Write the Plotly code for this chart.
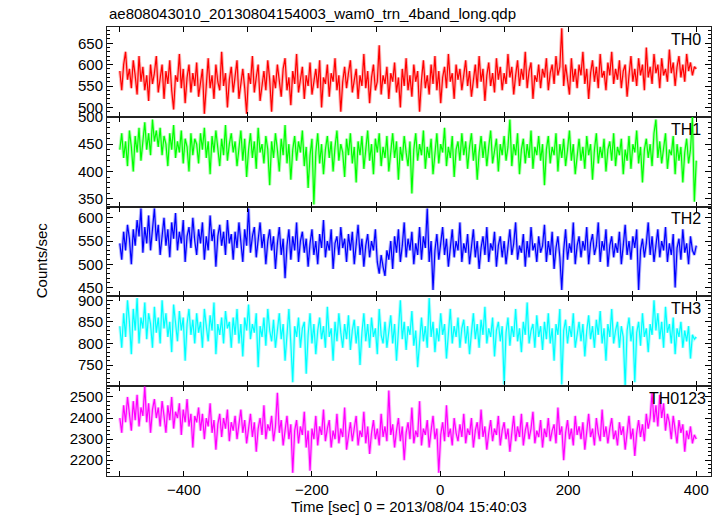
import numpy as np
import plotly.graph_objects as go

# time grid (sec), 3 s sampling of the light curve
time_sec = np.arange(-500, 401, 3)

th0 = [585, 540, 600, 630, 565, 590, 545, 610, 575, 530, 620, 560, 595, 540, 575, 515, 600, 555, 580, 620,
       535, 570, 600, 520, 585, 555, 610, 540, 495, 575, 560, 625, 545, 590, 510, 570, 600, 535, 580, 550,
       605, 525, 565, 590, 485, 555, 615, 545, 575, 520, 600, 560, 540, 630, 550, 580, 500, 565, 595, 535,
       575, 610, 520, 560, 590, 545, 485, 580, 555, 620, 535, 570, 600, 515, 555, 585, 540, 610, 565, 490,
       575, 545, 600, 560, 525, 590, 615, 540, 570, 505, 585, 555, 625, 535, 560, 595, 520, 575, 550, 605,
       530, 565, 590, 545, 610, 500, 570, 555, 600, 525, 580, 560, 615, 540, 575, 490, 560, 595, 545, 580,
       610, 535, 565, 590, 520, 575, 550, 625, 545, 585, 510, 570, 600, 540, 560, 645, 530, 575, 555, 595,
       520, 580, 560, 605, 535, 570, 500, 590, 550, 615, 540, 575, 525, 600, 560, 585, 490, 565, 610, 545,
       575, 530, 600, 555, 620, 540, 585, 510, 570, 595, 545, 625, 560, 580, 520, 600, 565, 590, 540, 575,
       610, 550, 585, 525, 570, 600, 545, 620, 560, 590, 515, 575, 605, 550, 580, 535, 615, 565, 595, 540,
       580, 555, 625, 570, 595, 530, 575, 610, 550, 590, 565, 630, 545, 585, 605, 520, 575, 560, 600, 545,
       590, 570, 615, 540, 580, 600, 555, 620, 575, 595, 685, 550, 600, 570, 530, 615, 560, 590, 545, 600,
       575, 630, 555, 590, 520, 580, 610, 560, 595, 545, 625, 570, 585, 540, 605, 575, 630, 555, 590, 565,
       610, 545, 585, 600, 525, 575, 620, 560, 590, 550, 615, 575, 600, 540, 640, 570, 595, 555, 625, 580,
       600, 545, 615, 575, 590, 560, 635, 580, 605, 550, 595, 620, 570, 600, 560, 625, 585, 605, 575, 595,
       590]

th1 = [440, 470, 425, 455, 410, 475, 445, 400, 465, 435, 480, 420, 455, 490, 440, 470, 430, 495, 455, 475,
       445, 480, 430, 465, 450, 410, 470, 440, 485, 425, 455, 435, 475, 415, 460, 445, 400, 470, 430, 460,
       450, 415, 470, 440, 480, 425, 455, 395, 465, 435, 475, 445, 410, 460, 430, 485, 420, 450, 470, 435,
       455, 410, 445, 475, 420, 460, 390, 440, 470, 425, 455, 405, 480, 435, 450, 415, 465, 440, 375, 455,
       425, 470, 440, 400, 460, 430, 485, 415, 450, 385, 440, 465, 420, 455, 435, 475, 410, 445, 370, 430,
       460, 340, 435, 470, 415, 450, 395, 440, 465, 425, 455, 400, 445, 475, 420, 450, 435, 390, 460, 430,
       470, 415, 445, 380, 455, 430, 465, 405, 440, 475, 420, 450, 395, 460, 435, 470, 410, 445, 425, 465,
       400, 440, 470, 425, 455, 385, 445, 420, 465, 435, 410, 455, 360, 440, 470, 420, 450, 430, 475, 405,
       445, 425, 460, 395, 440, 470, 415, 450, 435, 480, 410, 445, 425, 465, 390, 440, 455, 420, 470, 430,
       455, 405, 445, 470, 420, 450, 385, 435, 465, 425, 455, 410, 445, 475, 415, 440, 460, 400, 450, 430,
       465, 420, 445, 495, 410, 450, 430, 470, 395, 440, 460, 415, 450, 425, 475, 405, 445, 430, 465, 420,
       450, 375, 440, 465, 415, 445, 430, 470, 400, 450, 425, 460, 410, 440, 475, 420, 450, 395, 435, 460,
       420, 445, 405, 465, 430, 450, 385, 440, 470, 415, 445, 425, 460, 400, 440, 455, 420, 470, 410, 445,
       430, 460, 395, 440, 420, 465, 405, 450, 435, 475, 415, 445, 380, 440, 460, 425, 450, 410, 470, 495,
       425, 455, 415, 445, 470, 405, 440, 430, 465, 395, 450, 420, 445, 380, 435, 460, 415, 440, 500, 345,
       420]

th2 = [545, 510, 570, 530, 585, 555, 500, 575, 540, 595, 560, 620, 525, 580, 545, 605, 530, 570, 620, 550,
       585, 520, 565, 600, 540, 575, 515, 590, 555, 610, 530, 570, 545, 595, 505, 560, 580, 535, 600, 550,
       520, 575, 545, 590, 510, 560, 530, 605, 550, 575, 495, 560, 585, 540, 570, 520, 595, 545, 565, 510,
       570, 535, 590, 550, 505, 575, 540, 620, 525, 560, 580, 515, 555, 590, 535, 565, 500, 550, 575, 530,
       560, 490, 545, 580, 520, 555, 470, 540, 575, 510, 560, 530, 590, 505, 550, 570, 525, 555, 495, 545,
       575, 520, 550, 500, 565, 535, 595, 515, 550, 530, 575, 490, 545, 560, 520, 580, 535, 555, 505, 565,
       530, 570, 500, 545, 585, 520, 555, 495, 540, 565, 515, 550, 530, 575, 505, 480, 520, 495, 475, 530,
       510, 550, 490, 560, 525, 575, 505, 540, 590, 515, 555, 530, 570, 500, 545, 520, 580, 510, 560, 535,
       620, 505, 550, 445, 530, 565, 510, 545, 580, 520, 555, 495, 540, 575, 515, 550, 530, 590, 505, 545,
       525, 565, 500, 540, 575, 515, 550, 490, 535, 560, 520, 580, 505, 545, 530, 570, 495, 540, 560, 515,
       550, 500, 535, 575, 520, 545, 590, 510, 540, 525, 565, 495, 550, 515, 580, 530, 545, 505, 560, 525,
       540, 585, 505, 550, 520, 570, 490, 535, 560, 515, 445, 530, 575, 510, 545, 525, 590, 500, 540, 560,
       515, 550, 530, 580, 500, 545, 565, 520, 540, 590, 505, 550, 530, 575, 495, 540, 560, 515, 545, 525,
       570, 500, 540, 585, 520, 550, 510, 560, 535, 575, 445, 530, 555, 515, 545, 590, 520, 560, 505, 540,
       575, 515, 550, 530, 580, 505, 545, 520, 565, 450, 535, 555, 510, 575, 525, 545, 500, 560, 530, 520,
       540]

th3 = [840, 790, 870, 815, 900, 850, 775, 880, 830, 905, 800, 860, 835, 895, 810, 870, 845, 790, 885, 825,
       860, 800, 900, 835, 870, 815, 850, 780, 890, 840, 805, 875, 830, 860, 760, 845, 880, 820, 855, 800,
       870, 825, 850, 790, 880, 840, 805, 865, 830, 895, 775, 845, 820, 860, 800, 875, 835, 850, 790, 860,
       820, 880, 800, 845, 770, 860, 830, 890, 810, 845, 825, 870, 745, 840, 815, 860, 795, 880, 830, 805,
       855, 790, 835, 870, 810, 845, 760, 825, 880, 800, 710, 840, 815, 860, 790, 835, 850, 730, 820, 870,
       800, 845, 775, 830, 860, 810, 840, 790, 885, 815, 835, 760, 850, 805, 870, 825, 790, 845, 810, 865,
       785, 830, 855, 800, 840, 750, 825, 870, 805, 845, 790, 860, 815, 835, 775, 880, 820, 800, 850, 790,
       835, 865, 800, 845, 760, 830, 900, 810, 850, 785, 840, 820, 875, 795, 830, 745, 815, 860, 805, 840,
       790, 905, 815, 850, 780, 835, 805, 870, 820, 845, 765, 830, 880, 800, 840, 815, 860, 790, 835, 855,
       800, 840, 775, 825, 870, 810, 845, 790, 855, 820, 885, 800, 835, 815, 860, 770, 830, 850, 805, 840,
       705, 825, 860, 795, 840, 815, 880, 805, 835, 780, 850, 820, 895, 800, 830, 845, 790, 865, 815, 840,
       785, 850, 810, 870, 800, 835, 760, 845, 820, 880, 705, 830, 855, 800, 840, 815, 870, 790, 825, 850,
       805, 845, 770, 830, 865, 810, 840, 790, 855, 820, 875, 800, 835, 760, 845, 815, 880, 800, 830, 850,
       790, 840, 815, 700, 830, 860, 805, 840, 710, 825, 850, 795, 870, 815, 835, 780, 845, 820, 900, 830,
       870, 810, 850, 790, 885, 825, 845, 800, 860, 775, 835, 815, 850, 790, 830, 805, 840, 765, 820, 810,
       815]

th0123 = [2400, 2330, 2460, 2380, 2500, 2420, 2340, 2480, 2390, 2510, 2360, 2450, 2410, 2550, 2380, 2470, 2330, 2440, 2490, 2400,
          2450, 2360, 2480, 2410, 2330, 2460, 2390, 2500, 2350, 2430, 2400, 2470, 2320, 2440, 2380, 2490, 2360, 2420, 2260, 2410,
          2380, 2450, 2340, 2420, 2300, 2400, 2360, 2470, 2330, 2390, 2250, 2370, 2420, 2310, 2400, 2350, 2440, 2290, 2380, 2340,
          2410, 2300, 2370, 2440, 2330, 2390, 2280, 2360, 2420, 2310, 2380, 2240, 2350, 2400, 2320, 2460, 2300, 2370, 2340, 2410,
          2290, 2360, 2520, 2330, 2390, 2270, 2350, 2410, 2300, 2370, 2140, 2340, 2390, 2280, 2360, 2320, 2430, 2260, 2340, 2150,
          2350, 2300, 2410, 2270, 2360, 2320, 2440, 2290, 2350, 2390, 2260, 2340, 2300, 2420, 2280, 2350, 2310, 2450, 2250, 2330,
          2380, 2290, 2350, 2410, 2270, 2340, 2310, 2430, 2280, 2360, 2230, 2330, 2390, 2300, 2350, 2270, 2420, 2310, 2360, 2290,
          2530, 2320, 2370, 2260, 2340, 2400, 2290, 2360, 2200, 2330, 2380, 2300, 2450, 2280, 2340, 2310, 2480, 2270, 2350, 2320,
          2390, 2260, 2340, 2410, 2300, 2350, 2140, 2320, 2380, 2290, 2460, 2310, 2350, 2270, 2400, 2330, 2290, 2370, 2310, 2420,
          2280, 2350, 2320, 2400, 2260, 2340, 2380, 2300, 2440, 2310, 2360, 2250, 2330, 2390, 2290, 2350, 2320, 2410, 2270, 2340,
          2380, 2300, 2350, 2240, 2330, 2410, 2290, 2360, 2310, 2420, 2270, 2340, 2380, 2300, 2350, 2430, 2280, 2340, 2310, 2390,
          2260, 2350, 2310, 2400, 2290, 2340, 2370, 2280, 2450, 2320, 2360, 2200, 2330, 2390, 2300, 2350, 2270, 2410, 2320, 2360,
          2300, 2380, 2250, 2340, 2420, 2310, 2350, 2270, 2400, 2330, 2290, 2440, 2310, 2360, 2280, 2350, 2400, 2300, 2340, 2270,
          2380, 2320, 2360, 2250, 2340, 2410, 2300, 2350, 2220, 2330, 2390, 2310, 2370, 2290, 2420, 2350, 2400, 2520, 2380, 2460,
          2360, 2510, 2400, 2470, 2340, 2420, 2380, 2300, 2410, 2350, 2280, 2390, 2330, 2370, 2240, 2340, 2300, 2360, 2280, 2320,
          2300]

series_names = ["TH0", "TH1", "TH2", "TH3", "TH0123"]
series_values = [th0, th1, th2, th3, th0123]
colors = ["#ff0000", "#00ff00", "#0000ff", "#00ffff", "#ff00ff"]
y_ranges = [[478, 688], [336, 500], [431, 624], [701, 909], [2125, 2551]]
y_dticks = [50, 50, 50, 50, 100]
y_minor = [10, 10, 10, 10, 20]
x_range = [-520, 423]
x_tickvals = [-500, -400, -300, -200, -100, 0, 100, 200, 300, 400]
x_ticktext = ["", "\u2212400", "", "\u2212200", "", "0", "", "200", "", "400"]
label_x = [0.987, 0.987, 0.987, 0.987, 0.995]

FONT = "Liberation Sans, Arial, Helvetica, sans-serif"
npan = len(series_names)

fig = go.Figure()
layout = {}
for i, (name, vals, col) in enumerate(zip(series_names, series_values, colors)):
    k = "" if i == 0 else str(i + 1)
    n = min(len(time_sec), len(vals))
    # soft halo (like the light error-bar shading) under the main line
    fig.add_trace(go.Scatter(x=time_sec[:n], y=vals[:n], mode="lines",
                             line=dict(color=col, width=3.2), opacity=0.3,
                             hoverinfo="skip", showlegend=False,
                             xaxis="x" + k, yaxis="y" + k))
    fig.add_trace(go.Scatter(x=time_sec[:n], y=vals[:n], mode="lines",
                             line=dict(color=col, width=1.2), name=name,
                             showlegend=False, xaxis="x" + k, yaxis="y" + k))
    dom = [1 - (i + 1) / npan, 1 - i / npan]
    layout["yaxis" + k] = dict(
        domain=dom, anchor="x" + k, range=y_ranges[i], dtick=y_dticks[i], tick0=0,
        ticks="inside", ticklen=6, tickcolor="black", tickwidth=1,
        minor=dict(dtick=y_minor[i], ticks="inside", ticklen=3,
                   tickcolor="black", showgrid=False),
        showline=True, linecolor="#222222", linewidth=1, mirror="ticks",
        showgrid=False, zeroline=False,
        tickfont=dict(family=FONT, size=15, color="black"))
    layout["xaxis" + k] = dict(
        anchor="y" + k, range=x_range, tickmode="array",
        tickvals=x_tickvals, ticktext=x_ticktext,
        ticks="inside", ticklen=5, tickcolor="black",
        showline=True, linecolor="#222222", linewidth=1, mirror="ticks",
        showgrid=False, zeroline=False, showticklabels=(i == npan - 1),
        tickfont=dict(family=FONT, size=15, color="black"))

fig.update_layout(**layout)

# panel labels
for i, name in enumerate(series_names):
    k = "" if i == 0 else str(i + 1)
    fig.add_annotation(text=name, xref="x" + k + " domain", yref="y" + k + " domain",
                       x=label_x[i], y=0.98, xanchor="right", yanchor="top", showarrow=False,
                       font=dict(family=FONT, size=16, color="black"))

fig.add_annotation(text="ae808043010_20130804154003_wam0_trn_4band_long.qdp",
                   xref="paper", yref="paper", x=0, y=1.0, yshift=3,
                   xanchor="left", yanchor="bottom", showarrow=False,
                   font=dict(family=FONT, size=15, color="black"))
fig.add_annotation(text="Counts/sec", xref="paper", yref="paper",
                   x=-0.108, y=0.48, textangle=-90, xanchor="center", yanchor="middle",
                   showarrow=False, font=dict(family=FONT, size=15, color="black"))
fig.add_annotation(text="Time [sec] 0 = 2013/08/04 15:40:03", xref="paper", yref="paper",
                   x=0.5, y=-0.068, xanchor="center", yanchor="middle", showarrow=False,
                   font=dict(family=FONT, size=15, color="black"))

fig.update_layout(width=722, height=516, margin=dict(l=107, r=11, t=27, b=40),
                  paper_bgcolor="white", plot_bgcolor="white", hovermode=False)

fig.write_html("out.html", config={"displayModeBar": False},
               post_script="document.body.style.margin='0';document.body.style.overflow='hidden';")
